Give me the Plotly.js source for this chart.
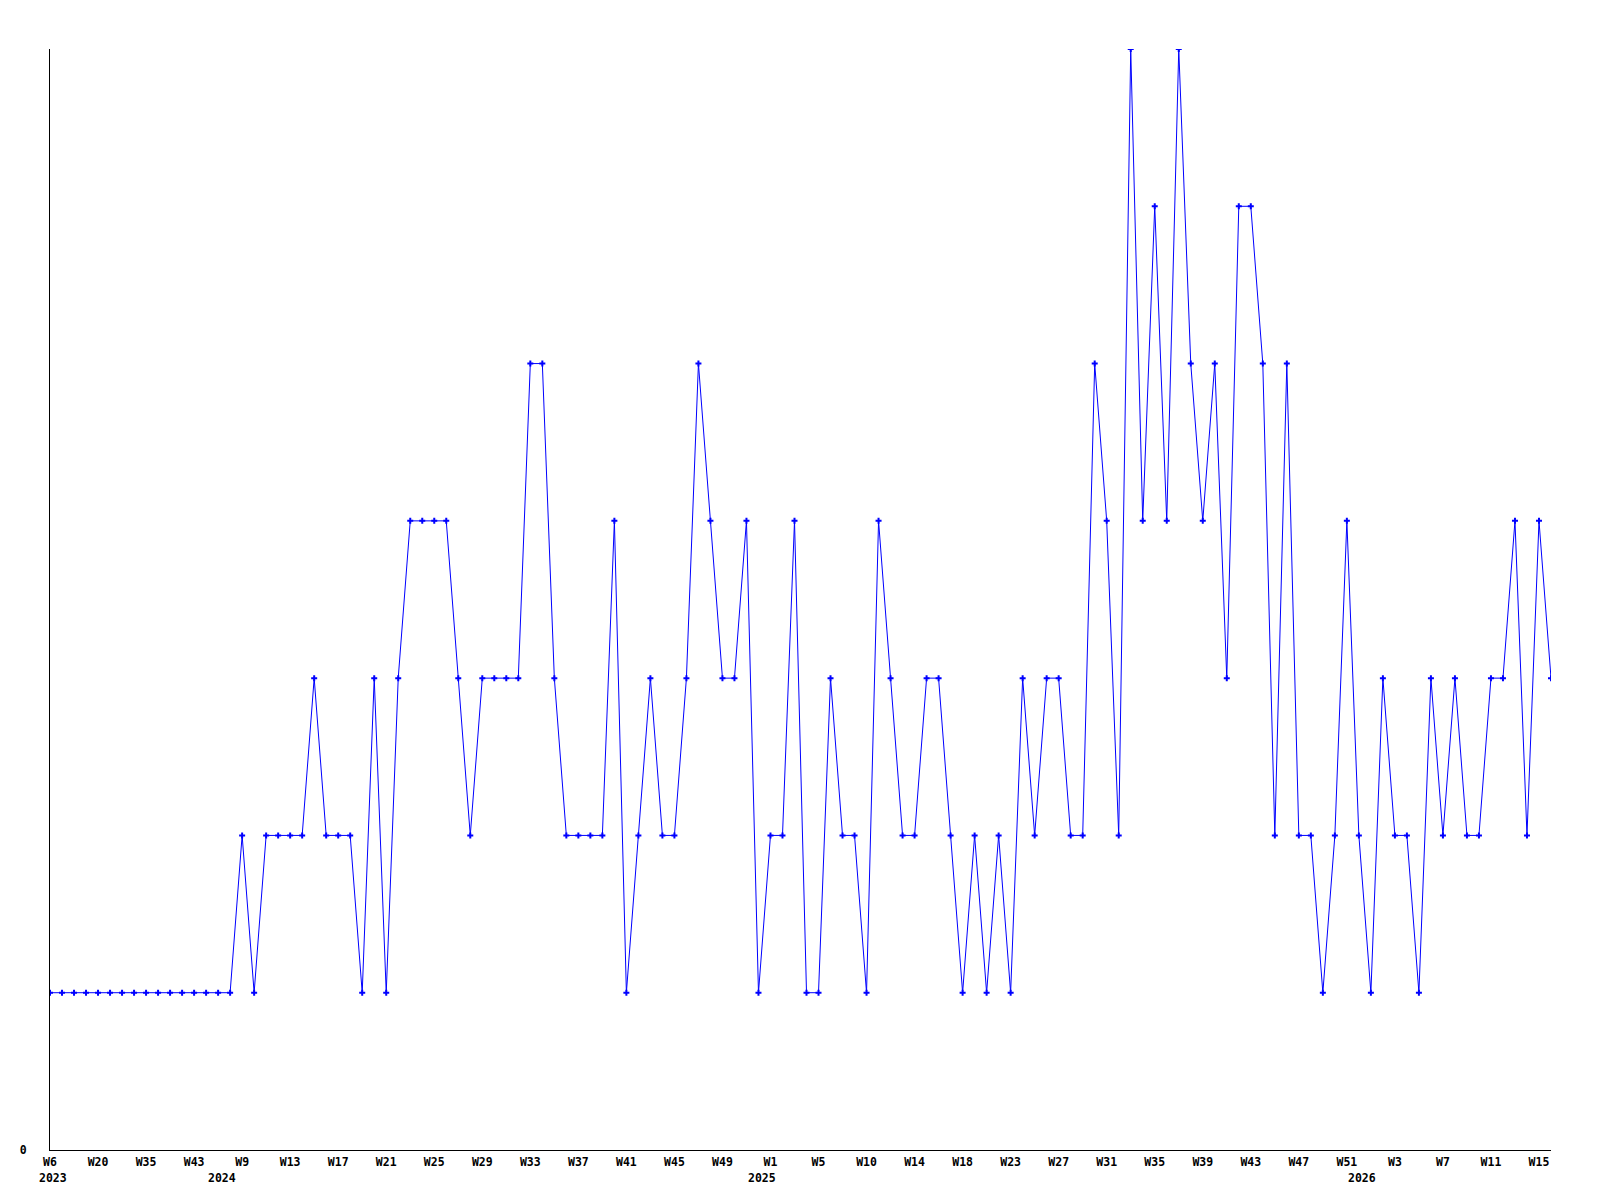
<!DOCTYPE html>
<html>
<head>
<meta charset="utf-8">
<script src="https://cdn.plot.ly/plotly-3.0.1.min.js"></script>
<style>
  html, body { margin: 0; padding: 0; background: #ffffff; }
  #chart { width: 1600px; height: 1200px; }
</style>
</head>
<body>
<div id="chart"></div>
<script>
// Weekly values, one per point (126 consecutive points)
const values = [
  1,1,1,1,1,1,1,1,1,1,1,1,1,1,1,1,
  2,1,2,2,2,2,3,2,2,2,1,3,1,3,4,4,4,4,3,2,3,3,3,3,
  5,5,3,2,2,2,2,4,1,2,3,2,2,3,5,4,3,3,4,1,
  2,2,4,1,1,3,2,2,1,4,3,2,2,3,3,2,1,2,1,2,1,3,2,3,3,2,2,5,4,2,
  7,4,6,4,7,5,4,5,3,6,6,5,2,5,2,2,1,2,4,2,
  1,3,2,2,1,3,2,3,2,2,3,3,4,2,4,3
];

// Tick labels on the x axis (every 4th point)
const weekTickIndex = [0,4,8,12,16,20,24,28,32,36,40,44,48,52,56,60,64,68,72,76,80,84,88,92,96,100,104,108,112,116,120,124];
const weekTickLabels = ["W6","W20","W35","W43","W9","W13","W17","W21","W25","W29","W33","W37","W41","W45","W49","W1","W5","W10","W14","W18","W23","W27","W31","W35","W39","W43","W47","W51","W3","W7","W11","W15"];

// Year labels under the week labels
const yearLabels = ["2023","2024","2025","2026"];
const yearIndex = [0, 14, 59, 109];

const xIdx = values.map((_, i) => i);

const fontFamily = "'DejaVu Sans Mono', 'Liberation Mono', monospace";

const trace = {
  x: xIdx,
  y: values,
  type: 'scatter',
  mode: 'lines+markers',
  line: { color: '#0000ff', width: 1 },
  marker: { color: '#0000ff', symbol: 'cross', size: 5, line: { width: 0 } },
  hoverinfo: 'skip',
  cliponaxis: true
};

const annotations = yearLabels.map((t, k) => ({
  text: '<b>' + t + '</b>',
  x: yearIndex[k],
  xref: 'x',
  y: 0,
  yref: 'paper',
  xanchor: 'center',
  yanchor: 'middle',
  xshift: 3.4,
  yshift: -28,
  showarrow: false,
  font: { family: fontFamily, size: 11.5, color: '#000000' }
}));

const layout = {
  width: 1600,
  height: 1200,
  margin: { l: 50, r: 49, t: 49, b: 50, pad: 0 },
  paper_bgcolor: '#ffffff',
  plot_bgcolor: '#ffffff',
  showlegend: false,
  xaxis: {
    range: [0, 125],
    tickmode: 'array',
    tickvals: weekTickIndex,
    ticktext: weekTickLabels.map(s => '<b>' + s + '</b>'),
    ticks: '',
    showgrid: false,
    zeroline: false,
    showline: true,
    linecolor: '#000000',
    linewidth: 1,
    ticklabelstandoff: 1,
    ticklabelshift: -3.5,
    tickfont: { family: fontFamily, size: 11.5, color: '#000000' },
    fixedrange: true
  },
  yaxis: {
    range: [0, 7],
    tickmode: 'array',
    tickvals: [0],
    ticktext: ['<b>0</b>'],
    ticks: '',
    showgrid: false,
    zeroline: false,
    showline: true,
    linecolor: '#000000',
    linewidth: 1,
    ticklabelstandoff: 20,
    tickfont: { family: fontFamily, size: 11.5, color: '#000000' },
    fixedrange: true
  },
  annotations: annotations
};

Plotly.newPlot('chart', [trace], layout, { staticPlot: true, displayModeBar: false });
</script>
</body>
</html>
